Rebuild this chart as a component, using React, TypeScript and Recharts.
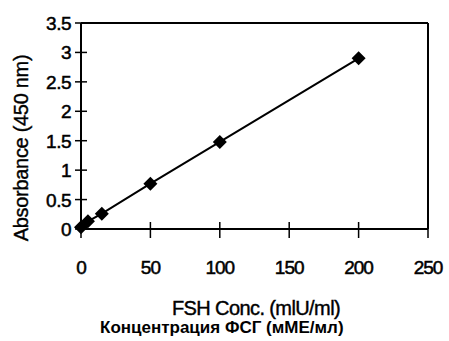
import React from "react";
import {
  ComposedChart,
  Line,
  XAxis,
  YAxis,
  ReferenceLine,
} from "recharts";

const concentrations = [0, 5, 15, 50, 100, 200];
const absorbances = [0.03, 0.13, 0.26, 0.77, 1.48, 2.9];
const xTicks = [0, 50, 100, 150, 200, 250];
const yTicks = [0, 0.5, 1, 1.5, 2, 2.5, 3, 3.5];

const data = concentrations.map((c, i) => ({ conc: c, abs: absorbances[i] }));

const FONT = "'Liberation Sans', Arial, sans-serif";

// scanned look: slightly heavier glyphs
const YTick = (props: any) => {
  const { x, y, payload } = props;
  return (
    <g>
      <line x1={x - 6} x2={x + 6} y1={y} y2={y} stroke="#000" strokeWidth={1.5} />
      <text
        x={x - 10}
        y={y}
        dy={7}
        textAnchor="end"
        fontSize={19}
        fontFamily={FONT}
        letterSpacing={-0.5}
        fill="#000"
        stroke="#000"
        strokeWidth={0.5}
      >
        {payload.value}
      </text>
    </g>
  );
};

const XTick = (props: any) => {
  const { x, y, payload } = props;
  return (
    <g>
      <line x1={x} x2={x} y1={y - 7} y2={y + 9} stroke="#000" strokeWidth={1.5} />
      <text
        x={x}
        y={y}
        dy={45}
        textAnchor="middle"
        fontSize={19}
        fontFamily={FONT}
        letterSpacing={-1}
        fill="#000"
        stroke="#000"
        strokeWidth={0.5}
      >
        {payload.value}
      </text>
    </g>
  );
};

const Diamond = (props: any) => {
  const { cx, cy } = props;
  if (cx == null || cy == null) return null;
  const r = 7;
  return (
    <polygon
      points={`${cx},${cy - r} ${cx + r},${cy} ${cx},${cy + r} ${cx - r},${cy}`}
      fill="#000"
    />
  );
};

export default function App() {
  return (
    <div
      style={{
        position: "absolute",
        left: 0,
        top: 0,
        width: 449,
        height: 341,
        background: "#fff",
        fontFamily: FONT,
      }}
    >
      <ComposedChart
        width={449}
        height={341}
        data={data}
        margin={{ top: 23, right: 21, bottom: 72, left: 0 }}
      >
        <XAxis
          dataKey="conc"
          type="number"
          domain={[0, 250]}
          ticks={xTicks}
          height={40}
          tickSize={0}
          tickMargin={0}
          tickLine={false}
          axisLine={{ stroke: "#000", strokeWidth: 2 }}
          tick={<XTick />}
          interval={0}
        />
        <YAxis
          type="number"
          domain={[0, 3.5]}
          ticks={yTicks}
          width={81}
          tickSize={0}
          tickMargin={0}
          tickLine={false}
          axisLine={{ stroke: "#000", strokeWidth: 2 }}
          tick={<YTick />}
          interval={0}
        />
        <ReferenceLine y={3.5} stroke="#000" strokeWidth={2} />
        <ReferenceLine x={250} stroke="#000" strokeWidth={2} />
        <Line
          dataKey="abs"
          stroke="#000"
          strokeWidth={2}
          dot={<Diamond />}
          activeDot={false}
          isAnimationActive={false}
        />
      </ComposedChart>
      <div
        style={{
          position: "absolute",
          left: 21,
          top: 148,
          transform: "translate(-50%, -50%) rotate(-90deg)",
          whiteSpace: "nowrap",
          fontSize: 20,
          letterSpacing: -0.3,
          color: "#000",
          WebkitTextStroke: "0.4px #000",
        }}
      >
        Absorbance (450 nm)
      </div>
      <div
        style={{
          position: "absolute",
          left: 256,
          top: 298,
          transform: "translateX(-50%)",
          whiteSpace: "nowrap",
          fontSize: 20,
          letterSpacing: -0.6,
          color: "#000",
          lineHeight: "20px",
          WebkitTextStroke: "0.4px #000",
        }}
      >
        FSH Conc. (mlU/ml)
      </div>
      <div
        style={{
          position: "absolute",
          left: 100,
          top: 319,
          whiteSpace: "nowrap",
          fontSize: 17,
          fontWeight: "bold",
          color: "#000",
          lineHeight: "18px",
        }}
      >
        Концентрация ФСГ (мМЕ/мл)
      </div>
    </div>
  );
}
